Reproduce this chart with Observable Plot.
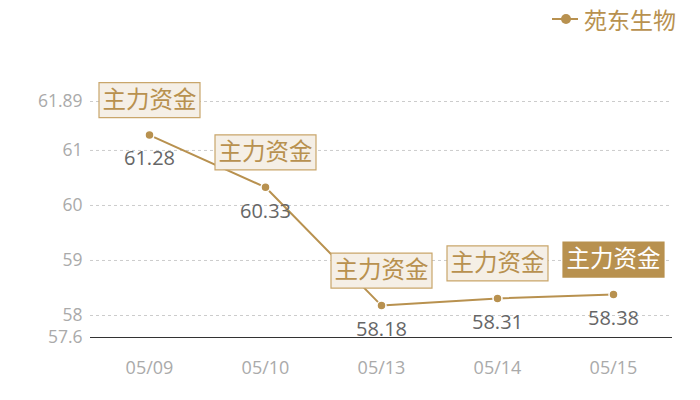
<!DOCTYPE html>
<html>
<head>
<meta charset="utf-8">
<script src="https://cdn.jsdelivr.net/npm/d3@7"></script>
<script src="https://cdn.jsdelivr.net/npm/@observablehq/plot@0.6"></script>
<style>
  body { margin: 0; background: #fff; font-family: "Noto Sans CJK SC", "Open Sans", sans-serif; }
  #wrap { position: relative; width: 700px; height: 400px; }
  #legend { position: absolute; top: 4px; right: 24px; display: flex; align-items: center; gap: 6px; color: #b8914f; font-size: 23px; line-height: 30px; }
</style>
</head>
<body>
<div id="wrap">
  <div id="legend">
    <svg width="26" height="14"><line x1="0" y1="7" x2="26" y2="7" stroke="#b8914f" stroke-width="2"/><circle cx="14" cy="7" r="5" fill="#b8914f"/></svg>
    <span>苑东生物</span>
  </div>
  <div id="chart"></div>
</div>
<script>
const dates = ["05/09", "05/10", "05/13", "05/14", "05/15"];
const values = [61.28, 60.33, 58.18, 58.31, 58.38];
const tags = ["主力资金", "主力资金", "主力资金", "主力资金", "主力资金"];
const highlight = [false, false, false, false, true];
const yTicks = [57.6, 58, 59, 60, 61, 61.89];
const gridTicks = [58, 59, 60, 61, 61.89];

const data = dates.map((d, i) => ({date: d, value: values[i], tag: tags[i], hi: highlight[i]}));

const boxSymbol = { draw(ctx) { ctx.rect(-50.5, -17.5, 101, 35); } };
const numFont = '"Open Sans", "Noto Sans CJK SC", sans-serif';

const chart = Plot.plot({
  width: 700,
  height: 400,
  marginTop: 101,
  marginBottom: 63,
  marginLeft: 90,
  marginRight: 28,
  style: { fontFamily: numFont, fontSize: "17px", color: "#aaa", background: "#fff" },
  x: { type: "point", domain: dates, padding: 0.5, label: null },
  y: { domain: [57.6, 61.89], label: null },
  marks: [
    Plot.ruleY(gridTicks, { stroke: "#ccc", strokeDasharray: "3,3", strokeWidth: 1 }),
    Plot.ruleY([57.6], { stroke: "#333", strokeWidth: 1.2 }),
    Plot.axisY({ ticks: yTicks, tickSize: 0, tickPadding: 8, tickFormat: d => String(d), fill: "#aaa", fontSize: 17.5, label: null }),
    Plot.axisX({ tickSize: 0, tickPadding: 24, fill: "#aaa", fontSize: 18, label: null }),
    Plot.line(data, { x: "date", y: "value", stroke: "#b8914f", strokeWidth: 2 }),
    Plot.dot(data, { x: "date", y: "value", r: 4.5, fill: "#b8914f", stroke: "#fff", strokeWidth: 1.5 }),
    Plot.text(data, { x: "date", y: "value", text: d => d.value.toFixed(2), dy: 24, fill: "#666", fontSize: 20 }),
    Plot.dot(data, { x: "date", y: "value", dy: -35, symbol: boxSymbol, r: 5,
      fill: d => d.hi ? "#b8914f" : "#f5efe6", stroke: d => d.hi ? "#b8914f" : "#c9a66b", strokeWidth: 1.2 }),
    Plot.text(data, { x: "date", y: "value", dy: -35, text: "tag", fontSize: 23.5, fontFamily: '"Noto Sans CJK SC", sans-serif',
      fill: d => d.hi ? "#ffffff" : "#b8914f" })
  ]
});
document.getElementById("chart").appendChild(chart);
</script>
</body>
</html>
